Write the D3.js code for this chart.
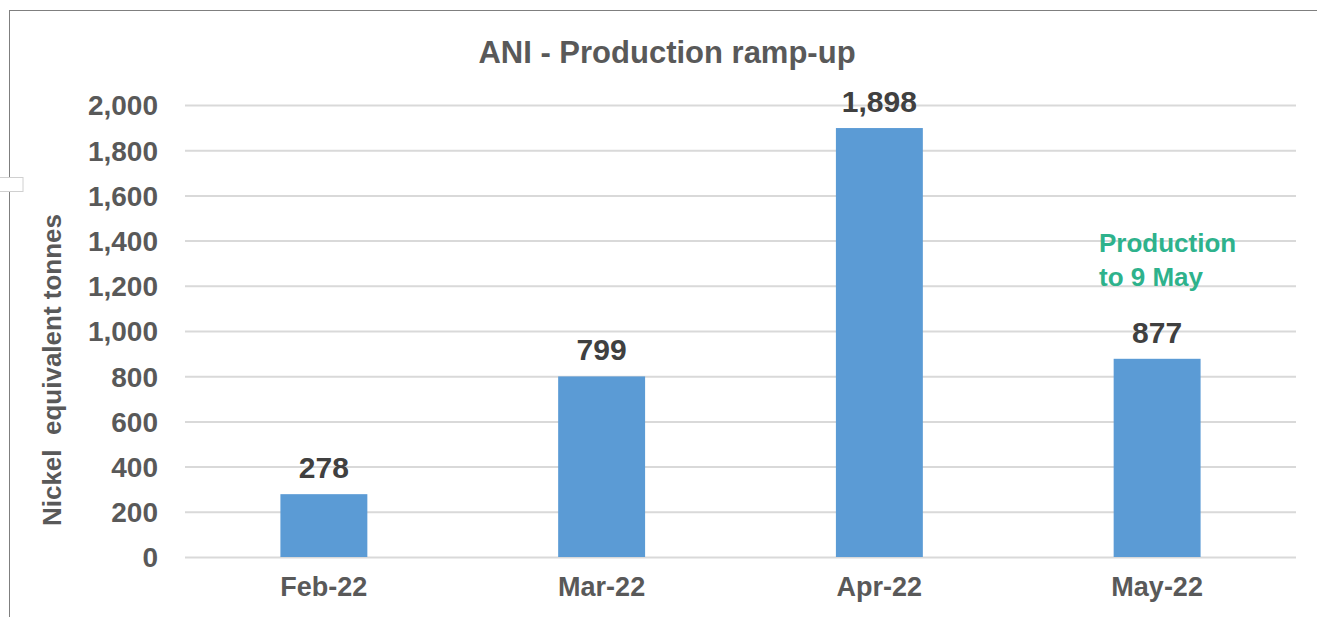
<!DOCTYPE html>
<html><head><meta charset="utf-8">
<script src="https://cdn.jsdelivr.net/npm/d3@7"></script>
<style>
html,body{margin:0;padding:0;background:#fff;}
svg{display:block;font-family:"Liberation Sans",Arial,sans-serif;font-weight:bold;}
</style></head>
<body><svg id="c" width="1317" height="617"></svg>
<script>
const categories = ["Feb-22","Mar-22","Apr-22","May-22"];
const values = [278, 799, 1898, 877];
const yTicks = [0,200,400,600,800,1000,1200,1400,1600,1800,2000];
const title = "ANI - Production ramp-up";
const yTitle = "Nickel  equivalent tonnes";
const noteLines = ["Production","to 9 May"];

const svg = d3.select("#c");
const L = 185, R = 1296, T = 105, B = 557;

// frame
svg.append("line").attr("x1",9.5).attr("x2",9.5).attr("y1",10).attr("y2",617).attr("stroke","#7f7f7f").attr("stroke-width",1);
svg.append("line").attr("x1",9).attr("x2",1317).attr("y1",10.5).attr("y2",10.5).attr("stroke","#7f7f7f").attr("stroke-width",1);
svg.append("rect").attr("x",-1).attr("y",177.5).attr("width",24).attr("height",14).attr("fill","#fff").attr("stroke","#d0d0d0");

const x = d3.scaleBand().domain(categories).range([L,R]).padding(0);
const y = d3.scaleLinear().domain([0,2000]).range([B,T]);

// grid
const yAxis = d3.axisLeft(y).tickValues(yTicks).tickSize(-(R-L)).tickPadding(27).tickFormat(d3.format(","));
const gy = svg.append("g").attr("transform",`translate(${L},0)`).call(yAxis);
gy.select(".domain").remove();
gy.selectAll(".tick line").attr("stroke","#d9d9d9").attr("stroke-width",2);
gy.selectAll(".tick text").attr("fill","#595959").attr("font-size",28).attr("font-family","Liberation Sans, Arial, sans-serif").attr("font-weight","bold").attr("dy","0.35em");

// bars
const bw = x.bandwidth()*0.313;
svg.append("g").selectAll("rect").data(values).join("rect")
  .attr("x",(d,i)=>x(categories[i])+x.bandwidth()/2-bw/2)
  .attr("width",bw)
  .attr("y",d=>y(d))
  .attr("height",d=>B-y(d))
  .attr("fill","#5b9bd5");

// data labels
svg.append("g").selectAll("text").data(values).join("text")
  .attr("x",(d,i)=>x(categories[i])+x.bandwidth()/2)
  .attr("y",d=>y(d)-16)
  .attr("text-anchor","middle")
  .attr("font-size",30).attr("fill","#404040")
  .text(d=>d3.format(",")(d));

// x axis labels
const xAxis = d3.axisBottom(x).tickSize(0).tickPadding(20);
const gx = svg.append("g").attr("transform",`translate(0,${B})`).call(xAxis);
gx.select(".domain").remove();
gx.selectAll(".tick text").attr("fill","#595959").attr("font-size",27).attr("font-family","Liberation Sans, Arial, sans-serif").attr("font-weight","bold");

// title
svg.append("text").attr("x",667).attr("y",63).attr("text-anchor","middle").attr("font-size",31).attr("fill","#595959").text(title);

// y title
svg.append("text").attr("transform","translate(61,370) rotate(-90)").attr("text-anchor","middle").attr("font-size",26).attr("fill","#595959").attr("xml:space","preserve").style("white-space","pre").text(yTitle);

// note
svg.append("text").attr("x",1099).attr("y",252).attr("font-size",26).attr("fill","#2eb28c")
  .selectAll("tspan").data(noteLines).join("tspan").attr("x",1099).attr("dy",(d,i)=>i?34:0).text(d=>d);
</script></body></html>
